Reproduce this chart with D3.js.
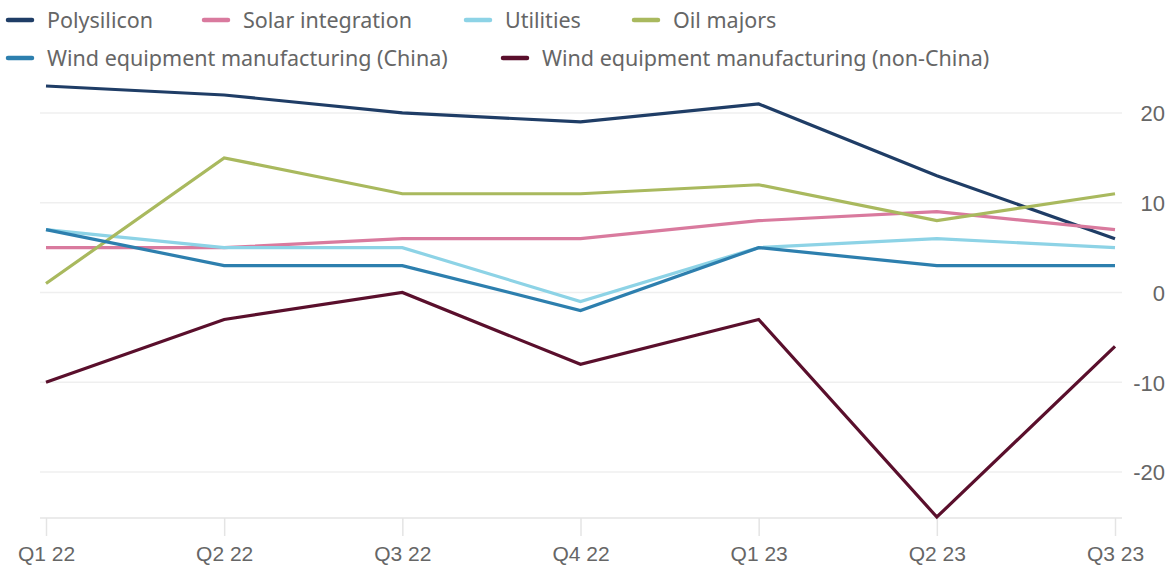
<!DOCTYPE html>
<html>
<head>
<meta charset="utf-8">
<script src="https://cdn.jsdelivr.net/npm/d3@7"></script>
<style>
  html, body { margin: 0; padding: 0; background: #fff; }
  svg { display: block; font-family: "Noto Sans", "Open Sans", sans-serif; }
</style>
</head>
<body>
<svg id="chart" width="1170" height="569"></svg>
<script>
// Quarterly values (%)
const quarters = ["Q1 22", "Q2 22", "Q3 22", "Q4 22", "Q1 23", "Q2 23", "Q3 23"];
const polysilicon = [23, 22, 20, 19, 21, 13, 6];
const solarIntegration = [5, 5, 6, 6, 8, 9, 7];
const utilities = [7, 5, 5, -1, 5, 6, 5];
const oilMajors = [1, 15, 11, 11, 12, 8, 11];
const windChina = [7, 3, 3, -2, 5, 3, 3];
const windNonChina = [-10, -3, 0, -8, -3, -25, -6];
const yTicks = [20, 10, 0, -10, -20];

const seriesNames = [
  "Polysilicon", "Solar integration", "Utilities", "Oil majors",
  "Wind equipment manufacturing (China)", "Wind equipment manufacturing (non-China)"
];
const seriesValues = [polysilicon, solarIntegration, utilities, oilMajors, windChina, windNonChina];
const seriesColors = ["#1f3d66", "#d97a9e", "#8dd3e6", "#a9b95e", "#2d7fae", "#5a0f2c"];

const svg = d3.select("#chart");

const x = d3.scalePoint().domain(quarters).range([46, 1115]);
const y = d3.scaleLinear().domain([-25, 23]).range([517, 86]);

// Horizontal gridlines
svg.append("g")
  .selectAll("line")
  .data(yTicks)
  .join("line")
  .attr("x1", 40).attr("x2", 1122)
  .attr("y1", d => y(d)).attr("y2", d => y(d))
  .attr("stroke", "#efefef").attr("stroke-width", 1.5);

// Right-hand value axis (plain hyphen for negatives)
const yAxis = svg.append("g")
  .attr("transform", "translate(1165,0)")
  .call(d3.axisLeft(y).tickValues(yTicks).tickSize(0).tickPadding(0).tickFormat(d => String(d)));
yAxis.select(".domain").remove();
yAxis.selectAll("text")
  .attr("fill", "#666").attr("font-size", 22).attr("dy", "0.35em");

// Bottom category axis
const xAxis = svg.append("g")
  .attr("transform", "translate(0,518)")
  .call(d3.axisBottom(x).tickSize(18).tickPadding(0));
xAxis.select(".domain").attr("d", "M40,0H1122").attr("stroke", "#e4e4e4").attr("stroke-width", 1.5);
xAxis.selectAll(".tick line").attr("stroke", "#e4e4e4").attr("stroke-width", 1.5);
xAxis.selectAll("text")
  .attr("fill", "#666").attr("font-size", 21)
  .attr("y", 36).attr("dy", "0.35em");

// Series lines
const line = d3.line().x((d, i) => x(quarters[i])).y(d => y(d));
svg.append("g")
  .selectAll("path")
  .data(seriesValues)
  .join("path")
  .attr("d", d => line(d))
  .attr("fill", "none")
  .attr("stroke", (d, i) => seriesColors[i])
  .attr("stroke-width", 3.2)
  .attr("stroke-linejoin", "miter");

// Legend
const legendPos = [
  [7, 20], [203, 20], [465, 20], [633, 20],
  [7, 58], [502, 58]
];
const legend = svg.append("g")
  .selectAll("g")
  .data(seriesNames)
  .join("g")
  .attr("transform", (d, i) => `translate(${legendPos[i][0]},${legendPos[i][1]})`);
legend.append("line")
  .attr("x1", 1).attr("x2", 25).attr("y1", 0).attr("y2", 0)
  .attr("stroke", (d, i) => seriesColors[i])
  .attr("stroke-width", 4.5).attr("stroke-linecap", "round");
legend.append("text")
  .attr("x", 40).attr("y", 0).attr("dy", "0.35em")
  .attr("fill", "#666").attr("font-size", 21.5)
  .text(d => d);
</script>
</body>
</html>
